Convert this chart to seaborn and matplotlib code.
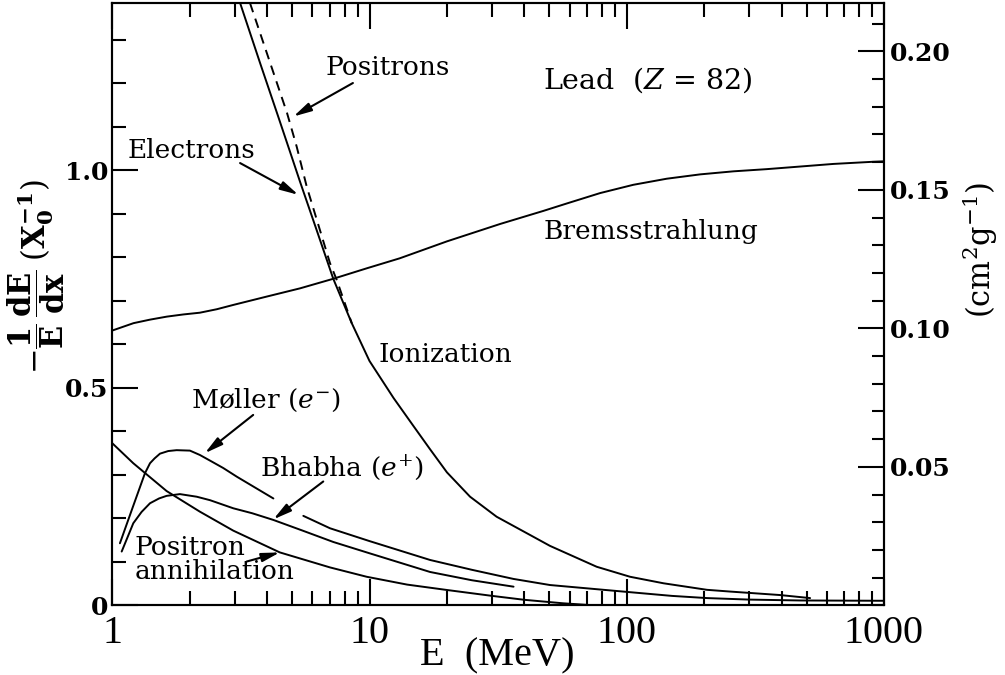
import numpy as np
import matplotlib
matplotlib.use('Agg')
import matplotlib.pyplot as plt
import seaborn as sns
from matplotlib.ticker import MultipleLocator, LogLocator, NullFormatter

# radiation length of lead (g cm^-2), used for the right hand scale
X0 = 6.37

# energy (MeV) and fractional energy loss per radiation length
brems_E = [1.0, 1.21, 1.40, 1.63, 1.89, 2.19, 2.55, 2.96, 3.98, 5.37, 7.23, 9.75, 13.1, 20.0,
           32.2, 47.4, 58.4, 78.8, 106, 143, 193, 260, 350, 472, 636, 910, 1000]
brems_y = [0.632, 0.649, 0.657, 0.664, 0.669, 0.673, 0.681, 0.691, 0.710, 0.729, 0.751, 0.775,
           0.798, 0.837, 0.877, 0.907, 0.924, 0.948, 0.967, 0.981, 0.991, 0.998, 1.003, 1.009,
           1.015, 1.020, 1.021]

elec_E = [3.14, 3.75, 4.41, 4.98, 5.37, 6.23, 7.23, 8.53, 10.0, 12.4, 14.8, 17.2, 20.0, 24.6,
          31.2, 42.1, 50.3, 76.4, 103, 139, 205, 252, 394, 516]
elec_y = [1.385, 1.248, 1.125, 1.032, 0.974, 0.863, 0.751, 0.649, 0.562, 0.477, 0.413, 0.359,
          0.306, 0.250, 0.204, 0.162, 0.137, 0.089, 0.066, 0.051, 0.036, 0.032, 0.024, 0.017]

pos_E = [3.43, 4.78, 5.21, 5.70, 7.02, 7.46, 8.53]
pos_y = [1.385, 1.132, 1.055, 0.963, 0.787, 0.748, 0.649]

# moller curve is broken where the bhabha arrow goes through
moller_E1 = [1.071, 1.20, 1.34, 1.402, 1.46, 1.533, 1.65, 1.779, 2.004, 2.19, 2.45, 2.70, 3.05, 4.23]
moller_y1 = [0.143, 0.225, 0.304, 0.327, 0.338, 0.349, 0.355, 0.357, 0.356, 0.346, 0.330, 0.316,
             0.296, 0.246]
moller_E2 = [5.53, 7.02, 10.0, 17.2, 25.0, 36.3, 50.3, 101, 150, 205, 300, 472, 1000]
moller_y2 = [0.206, 0.1775, 0.148, 0.1046, 0.082, 0.061, 0.047, 0.031, 0.022, 0.017, 0.0135,
             0.0115, 0.0108]

bhabha_E = [1.088, 1.207, 1.30, 1.402, 1.52, 1.627, 1.832, 2.13, 2.40, 2.955, 3.5, 4.23, 5.5,
            7.23, 10.0, 17.2, 25.0, 36.3]
bhabha_y = [0.124, 0.189, 0.215, 0.235, 0.246, 0.252, 0.256, 0.250, 0.242, 0.2234, 0.212,
            0.1966, 0.172, 0.146, 0.120, 0.077, 0.058, 0.0432]

annih_E = [1.0, 1.207, 1.627, 2.19, 2.955, 4.48, 7.02, 9.75, 14.0, 20.0, 30.0, 40.0, 56.6, 76]
annih_y = [0.373, 0.327, 0.263, 0.2157, 0.172, 0.122, 0.0875, 0.066, 0.048, 0.0356, 0.022,
           0.013, 0.005, 0.0]

xticks = [1, 10, 100, 1000]
xticklabels = ['1', '10', '100', '1000']
yticks = [0, 0.5, 1.0]
yticklabels = ['0', '0.5', '1.0']
rticks = [0.05, 0.10, 0.15, 0.20]
rticklabels = ['0.05', '0.10', '0.15', '0.20']

sns.set_theme(style='ticks', rc={'axes.edgecolor': 'black', 'xtick.color': 'black',
                                 'ytick.color': 'black', 'text.color': 'black',
                                 'axes.linewidth': 1.5})
plt.rcParams['font.family'] = ['DejaVu Serif']
plt.rcParams['mathtext.fontset'] = 'dejavuserif'

fig = plt.figure(figsize=(10.05, 6.75), dpi=100)
ax = fig.add_axes([0.1117, 0.1030, 0.7679, 0.8926])

curves = [(brems_E, brems_y, '-'),
          (elec_E, elec_y, '-'),
          (pos_E, pos_y, (0, (5, 3.5))),
          (moller_E1, moller_y1, '-'),
          (moller_E2, moller_y2, '-'),
          (bhabha_E, bhabha_y, '-'),
          (annih_E, annih_y, '-')]
for E, y, ls in curves:
    sns.lineplot(x=E, y=y, ax=ax, color='black', lw=1.4, linestyle=ls,
                 sort=False, estimator=None)

ax.set_xscale('log')
ax.set_xlim(1, 1000)
ax.set_ylim(0, 1.385)
ax.set_xticks(xticks)
ax.set_xticklabels(xticklabels, fontfamily='Liberation Serif', fontsize=29)
ax.xaxis.set_minor_locator(LogLocator(base=10, subs=np.arange(2, 10)))
ax.xaxis.set_minor_formatter(NullFormatter())
ax.set_yticks(yticks)
ax.set_yticklabels(yticklabels, fontweight='bold', fontsize=18)
ax.yaxis.set_minor_locator(MultipleLocator(0.1))
ax.tick_params(which='both', direction='in', top=True, right=False, width=1.5)
ax.tick_params(which='major', length=19)
ax.tick_params(which='minor', length=10)
ax.tick_params(axis='x', pad=7)
ax.tick_params(axis='y', pad=3)
ax.set_xlabel('')
ax.set_ylabel('')

# second scale in cm^2/g
ax2 = ax.twinx()
ax2.set_ylim(0, 1.385 / X0)
ax2.set_yticks(rticks)
ax2.set_yticklabels(rticklabels, fontweight='bold', fontsize=18)
ax2.yaxis.set_minor_locator(MultipleLocator(0.01))
ax2.tick_params(which='both', direction='in', width=1.5, pad=4)
ax2.tick_params(which='major', length=19)
ax2.tick_params(which='minor', length=9)
for s in ax2.spines.values():
    s.set_linewidth(1.5)

fs = 19
ax.text(121, 1.208, 'Lead  ($Z$ = 82)', ha='center', va='center', fontsize=20.5)
ax.text(11.8, 1.236, 'Positrons', ha='center', va='center', fontsize=fs)
ax.text(2.04, 1.047, 'Electrons', ha='center', va='center', fontsize=fs)
ax.text(124, 0.859, 'Bremsstrahlung', ha='center', va='center', fontsize=fs)
ax.text(19.8, 0.578, 'Ionization', ha='center', va='center', fontsize=fs)
ax.text(3.96, 0.472, 'Møller ($e^{-}$)', ha='center', va='center', fontsize=fs)
ax.text(7.82, 0.316, 'Bhabha ($e^{+}$)', ha='center', va='center', fontsize=fs)
ax.text(1.225, 0.105, 'Positron\nannihilation', ha='left', va='center',
        fontsize=fs, linespacing=0.95)

arrow = dict(arrowstyle='-|>,head_length=0.9,head_width=0.22', color='black',
             lw=1.5, shrinkA=0, shrinkB=0)
ax.annotate('', xy=(5.06, 1.124), xytext=(8.62, 1.201), arrowprops=arrow)
ax.annotate('', xy=(5.29, 0.944), xytext=(3.14, 1.017), arrowprops=arrow)
ax.annotate('', xy=(2.29, 0.350), xytext=(3.53, 0.438), arrowprops=arrow)
ax.annotate('', xy=(4.23, 0.198), xytext=(6.61, 0.285), arrowprops=arrow)
ax.annotate('', xy=(4.48, 0.122), xytext=(3.33, 0.101), arrowprops=arrow)

fig.text(497 / 1005, 1 - 656 / 675, 'E  (MeV)', ha='center', va='center',
         fontfamily='Liberation Serif', fontsize=29)
fig.text(36 / 1005, 1 - 277 / 675,
         r'$-\dfrac{\mathbf{1}}{\mathbf{E}}\,\dfrac{\mathbf{dE}}{\mathbf{dx}}\;(\mathbf{X_0^{-1}})$',
         rotation=90, ha='center', va='center', fontsize=22)
fig.text(980 / 1005, 1 - 250 / 675, r'(cm$^2$g$^{-1}$)', rotation=90,
         ha='center', va='center', fontsize=22)

fig.savefig('out.png', dpi=100)
